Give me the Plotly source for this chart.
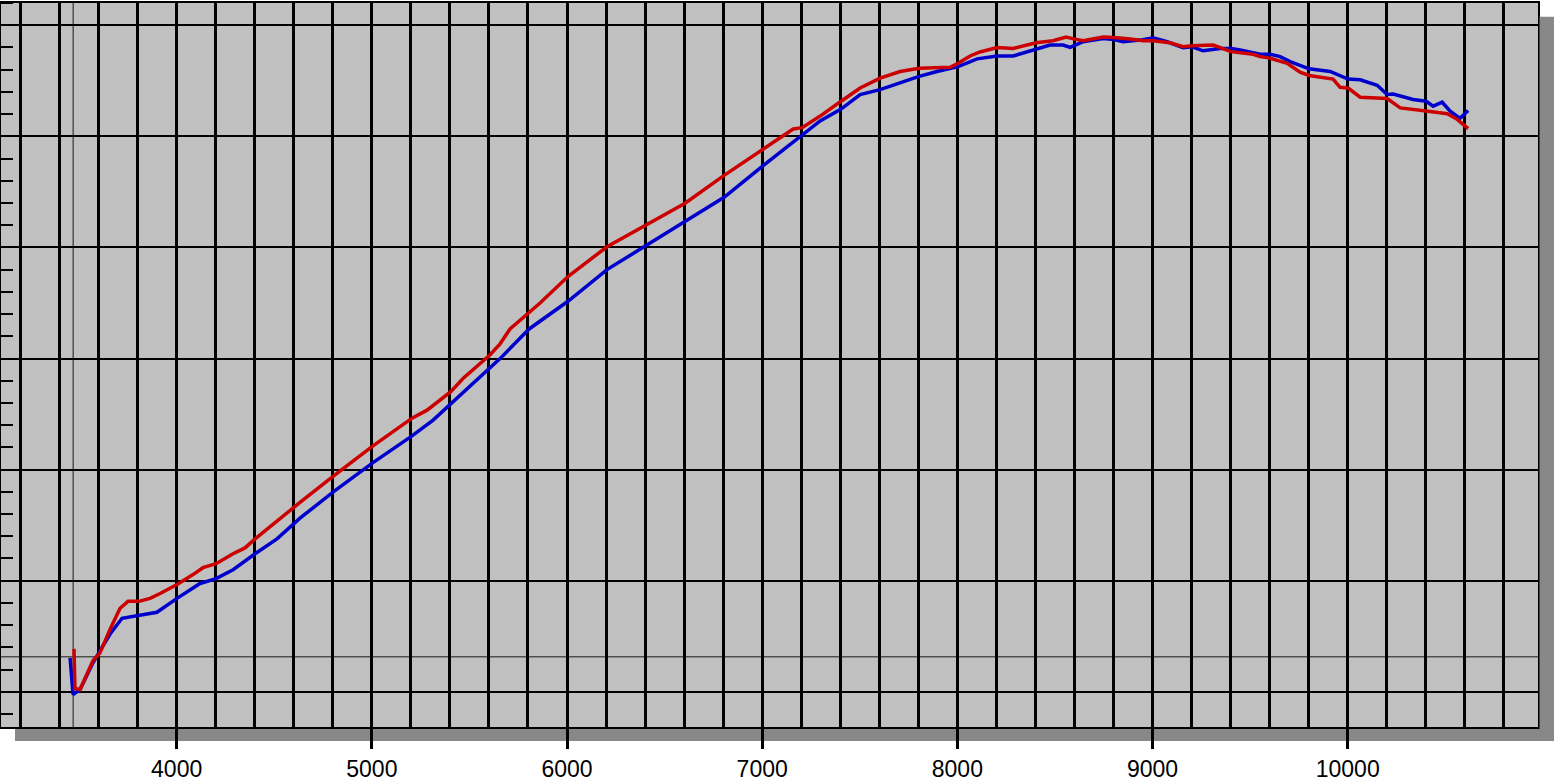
import plotly.graph_objects as go

# ---- data (engine speed vs. measured value) ----
blue_rpm = [3454, 3469, 3505, 3571, 3607, 3659, 3720, 3807, 3899, 4002, 4120, 4202, 4289, 4402, 4514,
            4632, 4806, 5006, 5206, 5314, 5406, 5606, 5657, 5806, 5862, 6005, 6205, 6405, 6605, 6805,
            7005, 7092, 7205, 7297, 7404, 7502, 7604, 7707, 7804, 7896, 8004, 8101, 8204, 8286, 8321,
            8403, 8475, 8542, 8578, 8644, 8747, 8803, 8849, 8936, 9003, 9075, 9157, 9203, 9259, 9346,
            9402, 9449, 9551, 9602, 9654, 9705, 9802, 9910, 10002, 10064, 10151, 10202, 10233, 10335,
            10402, 10438, 10484, 10525, 10576, 10617]
blue_val = [3.06, -0.24, 0.20, 2.61, 3.68, 5.20, 6.62, 6.89, 7.16, 8.41, 9.75, 10.19, 10.99, 12.42, 13.76,
            15.63, 18.04, 20.63, 23.03, 24.46, 25.97, 29.18, 29.99, 32.66, 33.37, 35.15, 38.00, 40.14, 42.28, 44.51,
            47.36, 48.55, 50.04, 51.38, 52.45, 53.76, 54.20, 54.85, 55.39, 55.83, 56.28, 56.97, 57.23, 57.23, 57.41,
            57.77, 58.21, 58.21, 58.00, 58.51, 58.80, 58.71, 58.51, 58.66, 58.87, 58.51, 57.97, 58.06, 57.70, 57.91,
            57.91, 57.77, 57.38, 57.39, 57.17, 56.73, 56.08, 55.84, 55.15, 55.09, 54.59, 53.76, 53.81, 53.31,
            53.16, 52.71, 53.07, 52.27, 51.62, 52.33]

red_rpm = [3474, 3479, 3505, 3571, 3607, 3659, 3710, 3751, 3807, 3864, 3915, 4002, 4084, 4135, 4202,
           4289, 4350, 4402, 4632, 4806, 5006, 5206, 5283, 5406, 5467, 5606, 5657, 5708, 5862, 6005,
           6205, 6405, 6605, 6805, 7005, 7092, 7159, 7205, 7297, 7404, 7502, 7604, 7707, 7804, 7896,
           7963, 8004, 8065, 8116, 8204, 8286, 8321, 8403, 8490, 8557, 8603, 8644, 8747, 8803, 8885,
           8952, 9003, 9090, 9157, 9203, 9311, 9402, 9515, 9551, 9602, 9690, 9756, 9802, 9925, 9961,
           10002, 10064, 10202, 10269, 10402, 10510, 10561, 10617]
red_val = [3.86, 0.29, 0.20, 2.79, 3.50, 5.64, 7.52, 8.14, 8.14, 8.41, 8.85, 9.66, 10.55, 11.17, 11.53,
           12.42, 12.95, 13.76, 17.05, 19.46, 22.13, 24.63, 25.35, 27.04, 28.20, 30.34, 31.32, 32.66, 34.99, 37.38,
           40.06, 42.02, 43.98, 46.48, 48.88, 49.89, 50.66, 50.78, 51.82, 53.16, 54.35, 55.24, 55.83, 56.13, 56.22,
           56.22, 56.57, 57.23, 57.59, 58.00, 57.91, 58.06, 58.42, 58.60, 58.93, 58.75, 58.60, 58.93, 58.89, 58.75,
           58.60, 58.60, 58.42, 58.06, 58.15, 58.21, 57.62, 57.38, 57.17, 57.04, 56.57, 55.77, 55.48, 55.15, 54.41,
           54.35, 53.52, 53.40, 52.56, 52.27, 52.03, 51.53, 50.69]

x_tick_vals = [4000, 5000, 6000, 7000, 8000, 9000, 10000]
x_tick_text = ["4000", "5000", "6000", "7000", "8000", "9000", "10000"]

cursor_rpm = 3470
cursor_val = 3.15

X_RANGE = [3100, 10975]
Y_RANGE = [-3.17, 62]

fig = go.Figure()
fig.add_trace(go.Scatter(x=blue_rpm, y=blue_val, mode="lines",
                         line=dict(color="#0000CC", width=3.5), showlegend=False, hoverinfo="skip"))
fig.add_trace(go.Scatter(x=red_rpm, y=red_val, mode="lines",
                         line=dict(color="#CC0000", width=3.5), showlegend=False, hoverinfo="skip"))

# drop shadow (L-shaped, outside the plot area)
fig.add_shape(type="rect", xref="paper", yref="paper", x0=0.0091, x1=1.0104, y0=-0.0192, y1=-0.001,
              fillcolor="#888888", line_width=0, layer="below")
fig.add_shape(type="rect", xref="paper", yref="paper", x0=1.001, x1=1.0104, y0=-0.0192, y1=0.981,
              fillcolor="#888888", line_width=0, layer="above")

# cursor crosshair
fig.add_shape(type="line", xref="x", yref="paper", x0=cursor_rpm, x1=cursor_rpm, y0=0, y1=1,
              line=dict(color="#505050", width=1.5), layer="below")
fig.add_shape(type="line", xref="paper", yref="y", x0=0, x1=1, y0=cursor_val, y1=cursor_val,
              line=dict(color="#505050", width=1.5), layer="below")

fig.update_layout(
    width=1554, height=783,
    margin=dict(l=1, r=16, t=1, b=51, pad=0),
    paper_bgcolor="white",
    plot_bgcolor="#C0C0C0",
    font=dict(family="Liberation Sans, Arial, sans-serif", size=23, color="black"),
    showlegend=False,
    hovermode=False,
)
fig.update_xaxes(
    range=X_RANGE, tickmode="array", tickvals=x_tick_vals, ticktext=x_tick_text,
    ticks="outside", ticklen=20, tickwidth=3, tickcolor="black",
    showgrid=True, gridcolor="black", gridwidth=3,
    minor=dict(dtick=200, tick0=0, showgrid=True, gridcolor="black", gridwidth=3, ticks=""),
    showline=True, linecolor="black", linewidth=2, mirror=True,
    zeroline=False, tickfont=dict(size=23, color="black"),
)
fig.update_yaxes(
    range=Y_RANGE, tickmode="linear", tick0=0, dtick=10,
    ticks="", showticklabels=False,
    showgrid=True, gridcolor="black", gridwidth=2,
    minor=dict(dtick=2, tick0=0, ticks="inside", ticklen=12, tickwidth=2, tickcolor="black", showgrid=False),
    showline=True, linecolor="black", linewidth=2, mirror=True,
    zeroline=False,
)

fig.write_html("out.html", config={"displayModeBar": False},
               post_script="document.body.style.margin='0px';document.body.style.overflow='hidden';")
